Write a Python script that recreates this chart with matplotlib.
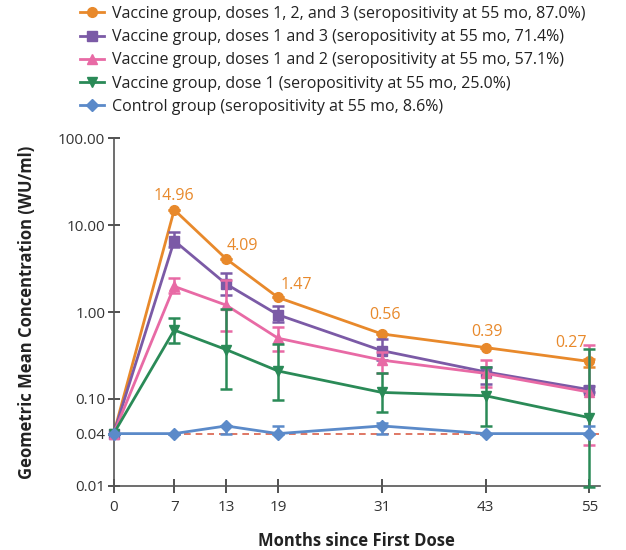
import numpy as np
import matplotlib.pyplot as plt
from matplotlib.ticker import FixedLocator, NullLocator

plt.rcParams['font.family'] = ['Open Sans', 'DejaVu Sans']

# dados
months = [0, 7, 13, 19, 31, 43, 55]

labels = [
    "Vaccine group, doses 1, 2, and 3 (seropositivity at 55 mo, 87.0%)",
    "Vaccine group, doses 1 and 3 (seropositivity at 55 mo, 71.4%)",
    "Vaccine group, doses 1 and 2 (seropositivity at 55 mo, 57.1%)",
    "Vaccine group, dose 1 (seropositivity at 55 mo, 25.0%)",
    "Control group (seropositivity at 55 mo, 8.6%)",
]

gmc_123 = [0.04, 14.96, 4.09, 1.47, 0.56, 0.39, 0.27]
lo_123 = [0.04, 14.96, 4.09, 1.47, 0.56, 0.39, 0.235]
hi_123 = [0.04, 14.96, 4.09, 1.47, 0.56, 0.39, 0.29]

gmc_13 = [0.04, 6.6, 2.1, 0.93, 0.36, 0.205, 0.128]
lo_13 = [0.04, 5.6, 1.57, 0.77, 0.28, 0.149, 0.12]
hi_13 = [0.04, 8.4, 2.78, 1.17, 0.485, 0.235, 0.14]

gmc_12 = [0.04, 1.97, 1.2, 0.50, 0.28, 0.197, 0.12]
lo_12 = [0.04, 1.64, 0.60, 0.36, 0.20, 0.139, 0.0296]
hi_12 = [0.04, 2.44, 2.33, 0.67, 0.35, 0.28, 0.42]

gmc_1 = [0.04, 0.62, 0.37, 0.21, 0.119, 0.109, 0.061]
lo_1 = [0.04, 0.44, 0.129, 0.098, 0.071, 0.049, 0.0098]
hi_1 = [0.04, 0.85, 1.07, 0.43, 0.20, 0.231, 0.38]

gmc_ctrl = [0.04, 0.04, 0.049, 0.04, 0.049, 0.04, 0.04]
lo_ctrl = [0.04, 0.04, 0.04, 0.04, 0.04, 0.04, 0.04]
hi_ctrl = [0.04, 0.04, 0.049, 0.049, 0.053, 0.04, 0.049]

ann_text = ["14.96", "4.09", "1.47", "0.56", "0.39", "0.27"]

colors = ["#E8892B", "#7B5AA6", "#E86AA5", "#2A8A57", "#5B8AC9"]
markers = ["o", "s", "^", "v", "D"]

fig = plt.figure(figsize=(6.26, 5.5), dpi=100)
ax = fig.add_axes([0.1816, 0.1164, 0.958 - 0.1816, 0.749 - 0.1164])

# linha de referencia
ax.plot([0, 56.2], [0.04, 0.04], ls=(0, (4, 3)), color="#D9604A", lw=1.2, zorder=1)

series = [
    (gmc_123, lo_123, hi_123),
    (gmc_13, lo_13, hi_13),
    (gmc_12, lo_12, hi_12),
    (gmc_1, lo_1, hi_1),
    (gmc_ctrl, lo_ctrl, hi_ctrl),
]

handles = []
for i, (g, lo, hi) in enumerate(series):
    g = np.array(g)
    yerr = [g - np.array(lo), np.array(hi) - g]
    eb = ax.errorbar(months, g, yerr=yerr, color=colors[i], marker=markers[i],
                     ms=7 if markers[i] != "D" else 6, lw=2.0, elinewidth=1.8,
                     capsize=4, capthick=1.8, zorder=2 + i, clip_on=False)
    handles.append(eb.lines[0])

# anotacoes
offsets = [(0, 4.5), (11.5, 3.5), (13.5, 3.5), (2, 8), (1, 5.5), (-13.5, 7.5)]
for x, y, t, off in zip(months[1:], gmc_123[1:], ann_text, offsets):
    ax.annotate(t, (x, y), xytext=off, textcoords="offset points",
                ha="center", va="bottom", color=colors[0], fontsize=11.5)

ax.set_yscale("log")
ax.set_ylim(0.01, 100)
ax.set_xlim(0, 56.2)
yt = [0.01, 0.04, 0.1, 1, 10, 100]
ax.yaxis.set_major_locator(FixedLocator(yt))
ax.yaxis.set_minor_locator(NullLocator())
ax.set_yticklabels([f"{v:.2f}" for v in yt])
ax.set_xticks(months)

for s in ["top", "right"]:
    ax.spines[s].set_visible(False)
for s in ["left", "bottom"]:
    ax.spines[s].set_color("#555555")
    ax.spines[s].set_linewidth(1.2)
ax.tick_params(colors="#333333", labelsize=11, length=6, width=1.2)
ax.tick_params(axis="x", direction="inout", length=10, pad=5)
ax.tick_params(axis="y", direction="inout", length=8, pad=2)

ax.set_xlabel("Months since First Dose", fontsize=12, fontweight="bold",
              color="#222222", labelpad=12)
ax.set_ylabel("Geometric Mean Concentration (WU/ml)", fontsize=12,
              fontweight="bold", color="#222222", labelpad=16)

fig.legend(handles, labels, loc="upper left",
           bbox_to_anchor=(80 / 626, 1 - 6 / 550),
           frameon=False, fontsize=11.5, handlelength=1.5, handletextpad=0.5,
           labelspacing=0.45, borderpad=0, borderaxespad=0,
           labelcolor="#222222")

fig.savefig("out.png", dpi=100)
